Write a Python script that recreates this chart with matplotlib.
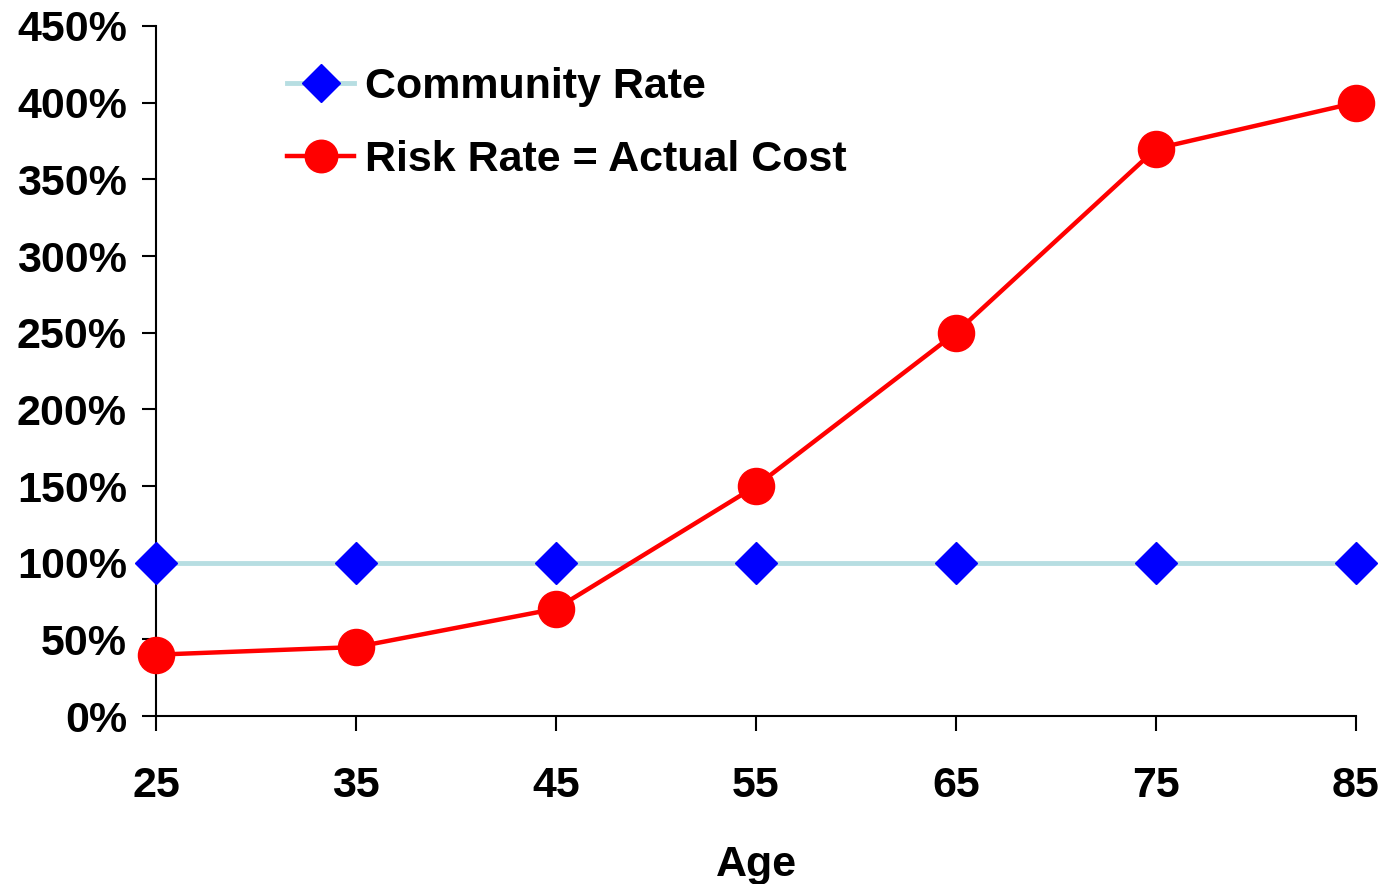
import matplotlib
matplotlib.use('Agg')
from matplotlib import pyplot as plt
from matplotlib.ticker import FuncFormatter

ages = [25, 35, 45, 55, 65, 75, 85]
community_rate = [100, 100, 100, 100, 100, 100, 100]
risk_rate = [40, 45, 70, 150, 250, 370, 400]
y_ticks = [0, 50, 100, 150, 200, 250, 300, 350, 400, 450]

plt.rcParams['font.family'] = ['Liberation Sans', 'DejaVu Sans']
plt.rcParams['font.weight'] = 'bold'

fig = plt.figure(figsize=(13.86, 8.84), dpi=100)
ax = fig.add_axes([0.1126, 0.190, 0.8658, 0.7806])

ax.plot(ages, community_rate, color='#B7DEE2', lw=3.5, marker='D',
        markersize=21, markerfacecolor='#0000FF', markeredgecolor='#0000FF',
        label='Community Rate', clip_on=False, zorder=3)
ax.plot(ages, risk_rate, color='#FF0000', lw=3.2, marker='o',
        markersize=26, markerfacecolor='#FF0000', markeredgecolor='#FF0000',
        label='Risk Rate = Actual Cost', clip_on=False, zorder=4)

ax.set_xlim(25, 85)
ax.set_ylim(0, 450)
ax.set_xticks(ages)
ax.set_yticks(y_ticks)
ax.yaxis.set_major_formatter(FuncFormatter(lambda v, p: f'{int(v)}%'))

for s in ['top', 'right']:
    ax.spines[s].set_visible(False)
for s in ['left', 'bottom']:
    ax.spines[s].set_linewidth(1.5)

ax.tick_params(axis='y', direction='out', length=10, width=1.5,
               labelsize=31, pad=11)
ax.tick_params(axis='x', direction='out', length=11, width=1.5,
               labelsize=31, pad=25)
for lbl in ax.get_xticklabels() + ax.get_yticklabels():
    lbl.set_fontweight('bold')

ax.set_xlabel('Age', fontsize=31, fontweight='bold', labelpad=28)

leg = ax.legend(loc='upper left', bbox_to_anchor=(0.095, 0.966), frameon=False,
                prop={'size': 31, 'weight': 'bold'}, handlelength=1.55,
                handletextpad=0.25, labelspacing=0.78, markerscale=0.9,
                borderaxespad=0)

fig.savefig('out.png', dpi=100)
